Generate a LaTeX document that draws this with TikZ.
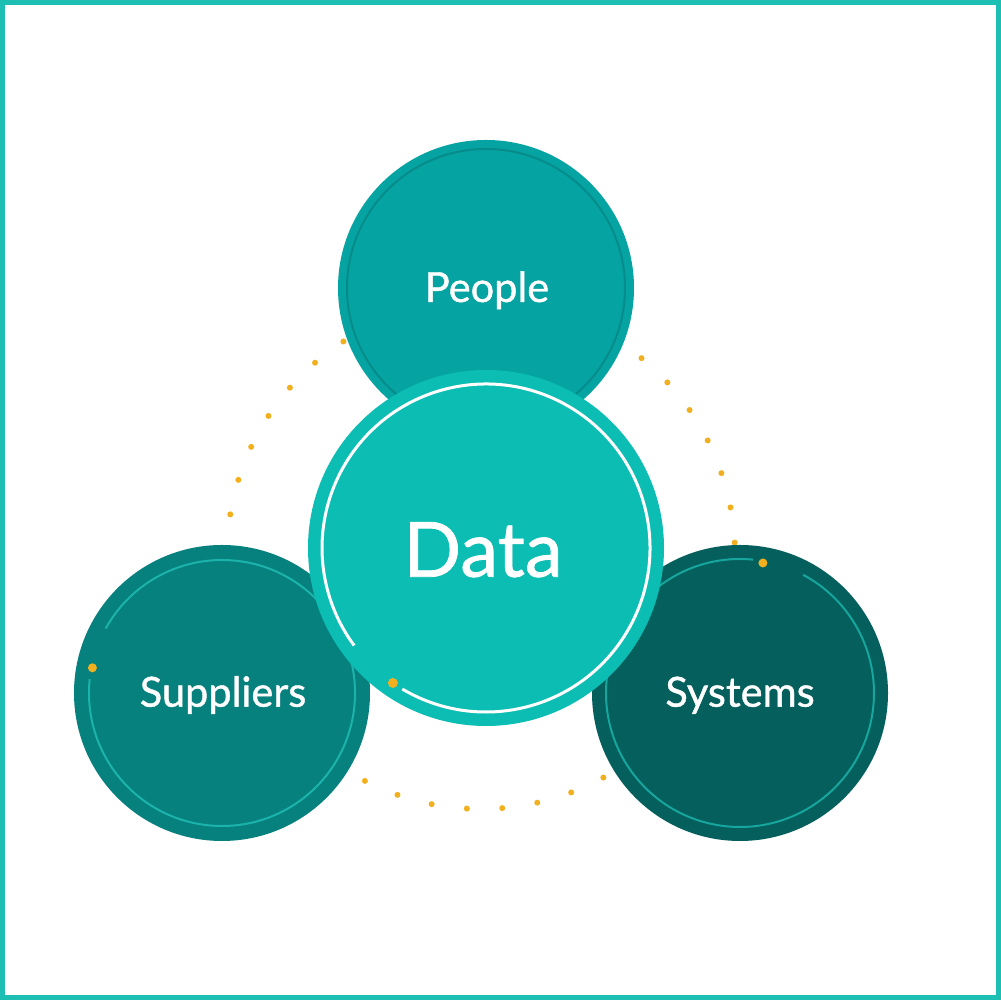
\documentclass[tikz,border=0pt]{standalone}
\usepackage{fontspec}
\setmainfont{Lato}
\newfontfamily\lblfont{Lato}[FakeBold=1]
\usetikzlibrary{calc}
\definecolor{frame}{HTML}{1DBFB3}
\definecolor{peoplefill}{HTML}{05A3A1}
\definecolor{peoplering}{HTML}{078C8B}
\definecolor{datafill}{HTML}{0BBDB3}
\definecolor{supfill}{HTML}{07817E}
\definecolor{supring}{HTML}{1BB3AB}
\definecolor{sysfill}{HTML}{055F5C}
\definecolor{sysring}{HTML}{16A69D}
\definecolor{dotc}{HTML}{F2B01E}
\begin{document}
\begin{tikzpicture}[x=1pt,y=1pt,
  bigc/.style={circle,inner sep=0pt,minimum size=296pt},
  lbl/.style={text=white,anchor=base,inner sep=0pt,font=\lblfont\fontsize{41.5}{48}\selectfont},
  ringline/.style={line width=2pt}]
\useasboundingbox (0,0) rectangle (1001,1000);
\fill[white] (0,0) rectangle (1001,1000);
\draw[frame,line width=5pt] (2.5,2.5) rectangle (998.5,997.5);
% dotted orbit
\coordinate (orbit) at (481,445);
\foreach \k in {0,...,44}{
  \fill[dotc] ($(orbit)+(266.8+8*\k:254)$) circle[radius=3];
}
% outer circles
\node[bigc,fill=peoplefill] (people) at (486,712) {};
\draw[peoplering,ringline] (people.center) circle[radius=139];
\node[bigc,fill=supfill] (sup) at (222,307) {};
\draw[supring,ringline] ($(sup.center)+(174:133)$) arc[start angle=174,end angle=511,radius=133];
\fill[dotc] ($(sup.center)+(169:132)$) circle[radius=4.5];
\node[bigc,fill=sysfill] (sys) at (740,307) {};
\draw[sysring,ringline] ($(sys.center)+(84.4:134)$) arc[start angle=84.4,end angle=421.9,radius=134];
\fill[dotc] ($(sys.center)+(80:132)$) circle[radius=4.5];
% centre circle
\node[circle,inner sep=0pt,minimum size=356pt,fill=datafill] (data) at (486,452) {};
\draw[white,line width=3pt] ($(data.center)+(239.3:164)$) arc[start angle=239.3,end angle=576.5,radius=164];
\fill[dotc] ($(data.center)+(235.4:164)$) circle[radius=5];
% labels
\node[lbl] (tpeople) at (487,698) {People};
\node[lbl] (tsup) at (223,293.3) {Suppliers};
\node[lbl] (tsys) at (740,293.3) {Systems};
\node[lbl,font=\lblfont\fontsize{76}{90}\selectfont] (tdata) at (483,423.3) {Data};
\end{tikzpicture}
\end{document}
